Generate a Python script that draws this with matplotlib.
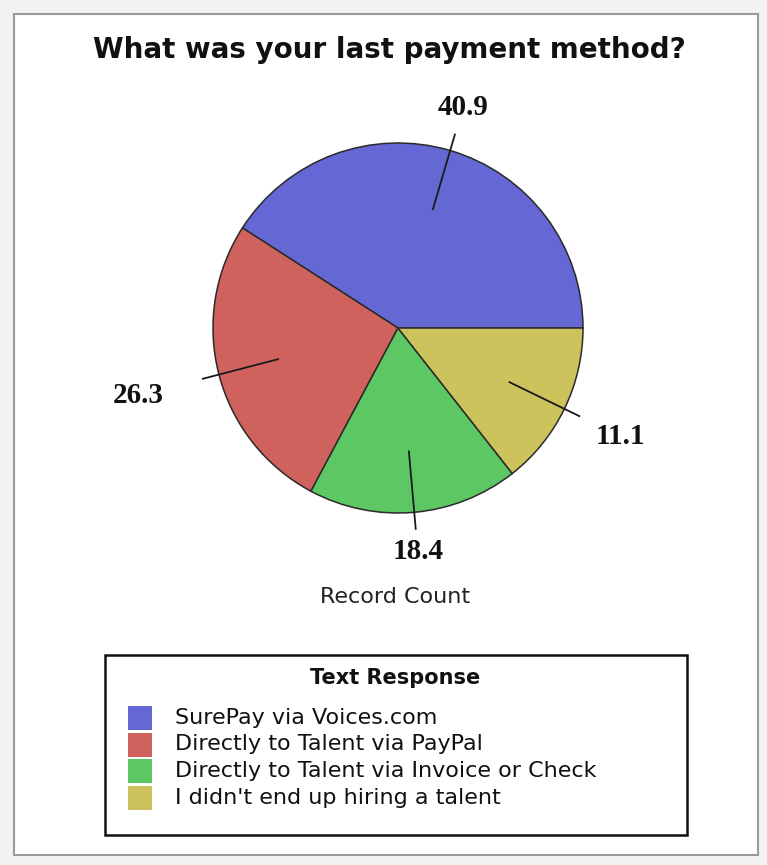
import numpy as np
import matplotlib
matplotlib.use('Agg')
import matplotlib.pyplot as plt
from matplotlib.patches import Rectangle

# datos del grafico
categorias = ['SurePay via Voices.com',
              'Directly to Talent via PayPal',
              'Directly to Talent via Invoice or Check',
              "I didn't end up hiring a talent"]
valores = [40.9, 26.3, 18.4, 14.4]          # tamano de cada porcion tal como se dibuja
etiquetas = ['40.9', '26.3', '18.4', '11.1']  # texto que muestra la grafica
colores = ['#6467d4', '#d0625e', '#5dc863', '#cdc35d']

W, H = 767, 865
fig = plt.figure(figsize=(W / 100, H / 100), dpi=100)
fig.patch.set_facecolor('#f2f2f2')
ax = fig.add_axes([0, 0, 1, 1])

# marco del panel
ax.add_patch(Rectangle((14, 10), 744, 841, facecolor='white', edgecolor='#9a9a9a', lw=1.5))

cx, cy, R = 398, H - 328, 185
wedges, _ = ax.pie(valores, colors=colores, startangle=0, counterclock=True,
                   center=(cx, cy), radius=R, frame=True,
                   wedgeprops=dict(edgecolor='#2a2a2a', linewidth=1.1))
ax.set_xlim(0, W)
ax.set_ylim(0, H)
ax.set_aspect('equal')
ax.axis('off')

# lineas guia y etiquetas
for w, txt in zip(wedges, etiquetas):
    ang = np.deg2rad((w.theta1 + w.theta2) / 2)
    c, s = np.cos(ang), np.sin(ang)
    ax.plot([cx + 0.67 * R * c, cx + 1.09 * R * c],
            [cy + 0.67 * R * s, cy + 1.09 * R * s], color='#1a1a1a', lw=1.3)
    extra = 48 if c < 0 else 28
    rt = 1.2 * R + abs(c) * extra
    ax.text(cx + rt * c, cy + rt * s, txt, ha='center', va='center',
            fontsize=21, fontweight='bold', family='Liberation Serif', color='#111111')

ax.text(389, H - 50, 'What was your last payment method?', ha='center', va='center',
        fontsize=20, fontweight='bold', color='#111111')
ax.text(395, H - 597, 'Record Count', ha='center', va='center', fontsize=16, color='#222222')

# leyenda
ax.add_patch(Rectangle((105, H - 835), 582, 180, facecolor='white', edgecolor='#111111', lw=1.8))
ax.text(395, H - 678, 'Text Response', ha='center', va='center', fontsize=15,
        fontweight='bold', color='#111111')
for i, (cat, col) in enumerate(zip(categorias, colores)):
    y = H - 718 - i * 26.5
    ax.add_patch(Rectangle((128, y - 12), 24, 24, facecolor=col, edgecolor='none'))
    ax.text(175, y, cat, ha='left', va='center', fontsize=16, color='#111111')

fig.savefig('out.png', dpi=100, facecolor=fig.get_facecolor())
